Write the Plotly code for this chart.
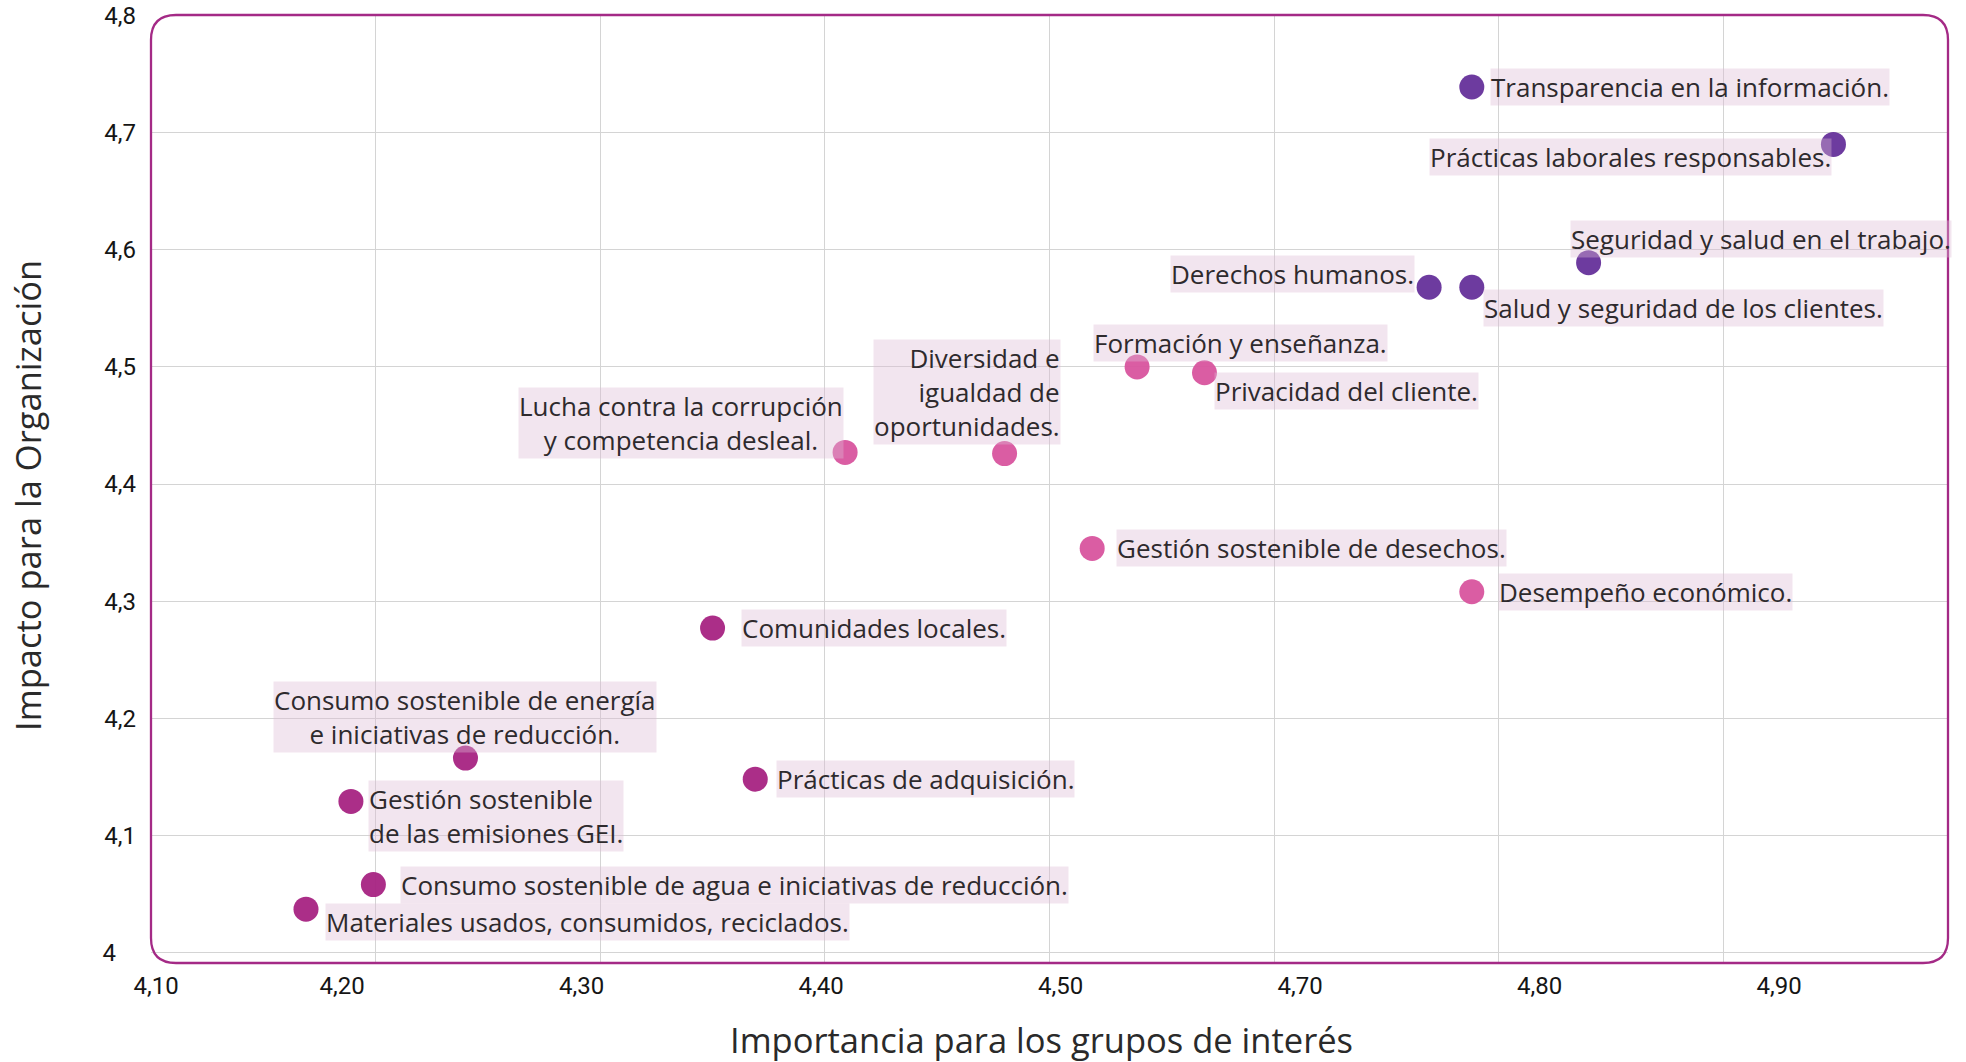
import plotly.graph_objects as go

# ---------------- data ----------------
topics = [
    "Transparencia en la información.",
    "Prácticas laborales responsables.",
    "Seguridad y salud en el trabajo.",
    "Derechos humanos.",
    "Salud y seguridad de los clientes.",
    "Formación y enseñanza.",
    "Privacidad del cliente.",
    "Diversidad e<br>igualdad de<br>oportunidades.",
    "Lucha contra la corrupción<br>y competencia desleal.",
    "Gestión sostenible de desechos.",
    "Desempeño económico.",
    "Comunidades locales.",
    "Prácticas de adquisición.",
    "Consumo sostenible de energía<br>e iniciativas de reducción.",
    "Gestión sostenible<br>de las emisiones GEI.",
    "Consumo sostenible de agua e iniciativas de reducción.",
    "Materiales usados, consumidos, reciclados.",
]
importancia = [4.688, 4.849, 4.740, 4.669, 4.688,
               4.539, 4.569, 4.480, 4.409, 4.519, 4.688,
               4.350, 4.369, 4.240, 4.189, 4.199, 4.169]
impacto = [4.739, 4.690, 4.589, 4.568, 4.568,
           4.500, 4.495, 4.426, 4.427, 4.345, 4.308,
           4.277, 4.148, 4.166, 4.129, 4.058, 4.037]
tier = [1, 1, 1, 1, 1,
        2, 2, 2, 2, 2, 2,
        3, 3, 3, 3, 3, 3]

x_tick_labels = ["4,10", "4,20", "4,30", "4,40", "4,50", "4,70", "4,80", "4,90"]
y_tick_values = [4.0, 4.1, 4.2, 4.3, 4.4, 4.5, 4.6, 4.7, 4.8]
y_tick_labels = ["4", "4,1", "4,2", "4,3", "4,4", "4,5", "4,6", "4,7", "4,8"]

# ---------------- styles ----------------
tier_colors = {1: "#65309a", 2: "#d8549e", 3: "#a62382"}
# label placement: (xanchor, xshift, yshift, align)
placement = [
    ("left", 18, 0, "left"),
    ("right", -1, -13, "right"),
    ("left", -19, 24, "left"),
    ("right", -14, 13, "right"),
    ("left", 11, -21, "left"),
    ("left", -44, 24, "left"),
    ("left", 10, -18, "left"),
    ("right", 56, 62, "right"),
    ("right", -1, 29, "center"),
    ("left", 24, 0, "left"),
    ("left", 26, 0, "left"),
    ("left", 28, 0, "left"),
    ("left", 21, 0, "left"),
    ("center", 0, 41, "center"),
    ("left", 17, -15, "left"),
    ("left", 27, 0, "left"),
    ("left", 19, -13, "left"),
]
label_slots = [0.223, 1, 2, 3, 4, 5, 6, 7]

LABEL_FONT = dict(family="Open Sans", size=26, color="#2e2a2d")
TICK_FONT = dict(family="Roboto", size=24, color="#151515")
TITLE_FONT = dict(family="Open Sans", size=34.5, color="#2a2a2a", weight=500)
BORDER = "#a42a86"

fig = go.Figure()
for t in (1, 2, 3):
    idx = [i for i, v in enumerate(tier) if v == t]
    fig.add_trace(go.Scatter(
        x=[importancia[i] for i in idx],
        y=[impacto[i] for i in idx],
        mode="markers",
        marker=dict(size=25, color=tier_colors[t], opacity=0.95),
        text=[topics[i] for i in idx],
        hoverinfo="text",
        showlegend=False,
    ))

# invisible trace to activate the label axis
fig.add_trace(go.Scatter(x=[label_slots[1]], y=[impacto[0]], xaxis="x2",
                         mode="markers", marker=dict(opacity=0),
                         hoverinfo="skip", showlegend=False))

annotations = []
for i, name in enumerate(topics):
    xa, xs, ys, al = placement[i]
    annotations.append(dict(
        x=importancia[i], y=impacto[i], xref="x", yref="y",
        text=name, showarrow=False, xanchor=xa, yanchor="middle",
        xshift=xs, yshift=ys, align=al, font=LABEL_FONT,
        bgcolor="rgba(222,186,212,0.38)", borderpad=0,
    ))

annotations.append(dict(
    x=0.4953, y=-0.1044, xref="paper", yref="paper", yshift=-3,
    text="Importancia para los grupos de interés", showarrow=False,
    xanchor="center", yanchor="bottom", font=TITLE_FONT))
annotations.append(dict(
    x=-0.0685, y=0.4937, xref="paper", yref="paper",
    text="Impacto para la Organización", showarrow=False, textangle=-90,
    xanchor="center", yanchor="middle", font=TITLE_FONT))

W, H = 1966 - 151 - 18, 1062 - 15 - 99
rx, ry = 25 / W, 25 / H
border_path = (f"M {rx},0 L {1-rx},0 Q 1,0 1,{ry} L 1,{1-ry} Q 1,1 {1-rx},1 "
               f"L {rx},1 Q 0,1 0,{1-ry} L 0,{ry} Q 0,0 {rx},0 Z")

y_text = [lab if lab != "4" else lab + "\u2008\u2007" for lab in y_tick_labels]

fig.update_layout(
    width=1966, height=1062,
    margin=dict(l=151, r=18, t=15, b=99, autoexpand=False),
    paper_bgcolor="white", plot_bgcolor="white",
    xaxis=dict(range=[4.1, 4.9], tick0=4.1, dtick=0.1, showgrid=True,
               gridcolor="#d4d4d4", gridwidth=1, showticklabels=False,
               zeroline=False, showline=False, ticks="", automargin=False),
    xaxis2=dict(overlaying="x", anchor="y", side="bottom",
                range=[0.202, 7.705], tickmode="array",
                tickvals=label_slots, ticktext=x_tick_labels,
                showgrid=False, zeroline=False, showline=False, ticks="",
                tickfont=TICK_FONT, ticklabelstandoff=6, automargin=False),
    yaxis=dict(range=[3.991, 4.8005], tickmode="array",
               tickvals=y_tick_values, ticktext=y_text, showgrid=True,
               gridcolor="#d4d4d4", gridwidth=1, zeroline=False,
               showline=False, ticks="", tickfont=TICK_FONT,
               ticklabelstandoff=14, automargin=False),
    annotations=annotations,
    shapes=[dict(type="path", xref="paper", yref="paper", path=border_path,
                 line=dict(color=BORDER, width=2.3), layer="above")],
)

fig.write_html("out.html", config={"displayModeBar": False},
               post_script="document.body.style.margin='0';document.body.style.overflow='hidden';")
